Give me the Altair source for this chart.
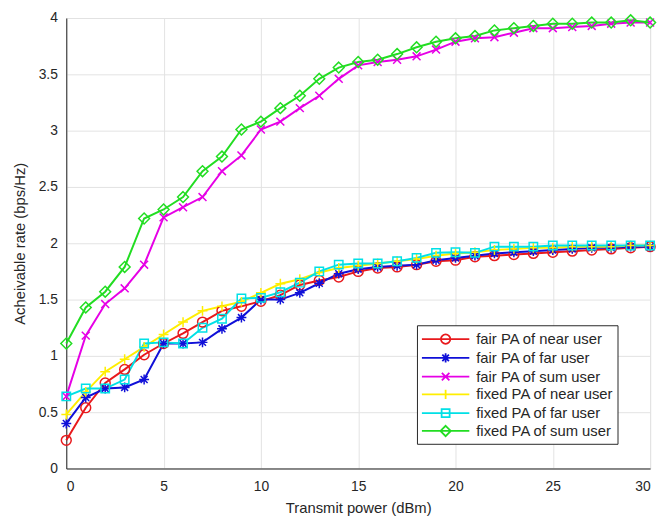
import altair as alt
import pandas as pd

# ---------------- data ----------------
power = list(range(31))

fair_near = [0.25, 0.54, 0.76, 0.88, 1.01, 1.11, 1.20, 1.30, 1.40, 1.44, 1.485,
             1.54, 1.63, 1.67, 1.70, 1.75, 1.78, 1.79, 1.81, 1.84, 1.85,
             1.88, 1.89, 1.90, 1.91, 1.92, 1.93, 1.94, 1.95, 1.96, 1.97]
fair_far = [0.40, 0.63, 0.71, 0.72, 0.79, 1.11, 1.11, 1.12, 1.24, 1.34, 1.50,
            1.50, 1.56, 1.645, 1.73, 1.77, 1.79, 1.80, 1.81, 1.85, 1.87,
            1.89, 1.91, 1.92, 1.93, 1.94, 1.95, 1.96, 1.96, 1.97, 1.97]
fair_sum = [0.64, 1.18, 1.46, 1.60, 1.81, 2.23, 2.32, 2.41, 2.64, 2.78, 3.01,
            3.08, 3.20, 3.31, 3.46, 3.58, 3.61, 3.63, 3.66, 3.72, 3.79,
            3.82, 3.83, 3.87, 3.91, 3.91, 3.92, 3.93, 3.95, 3.96, 3.96]
fixed_near = [0.48, 0.68, 0.86, 0.97, 1.08, 1.19, 1.30, 1.40, 1.44, 1.48, 1.56,
              1.64, 1.68, 1.74, 1.78, 1.80, 1.82, 1.84, 1.86, 1.89, 1.91,
              1.92, 1.94, 1.95, 1.96, 1.96, 1.97, 1.97, 1.97, 1.98, 1.98]
fixed_far = [0.64, 0.71, 0.71, 0.79, 1.11, 1.12, 1.11, 1.25, 1.33, 1.51, 1.515,
             1.565, 1.65, 1.75, 1.81, 1.82, 1.82, 1.84, 1.87, 1.915, 1.92,
             1.915, 1.97, 1.97, 1.97, 1.98, 1.98, 1.98, 1.98, 1.98, 1.98]
fixed_sum = [1.11, 1.43, 1.57, 1.79, 2.22, 2.30, 2.41, 2.64, 2.77, 3.01, 3.08,
             3.20, 3.31, 3.46, 3.56, 3.61, 3.63, 3.68, 3.74, 3.79, 3.82,
             3.84, 3.89, 3.91, 3.93, 3.95, 3.95, 3.96, 3.96, 3.98, 3.96]

series_names = ["fair PA of near user", "fair PA of far user", "fair PA of sum user",
                "fixed PA of near user", "fixed PA of far user", "fixed PA of sum user"]
series_values = [fair_near, fair_far, fair_sum, fixed_near, fixed_far, fixed_sum]

# ---------------- styles ----------------
colors = ["#e8191c", "#1010d8", "#e600e6", "#ffee00", "#00e0e6", "#22dd22"]

marker_paths = [
    "M-1,0A1,1 0 1,0 1,0A1,1 0 1,0 -1,0Z",                                   # o
    "M-1,0L1,0M0,-1L0,1M-0.7,-0.7L0.7,0.7M-0.7,0.7L0.7,-0.7",               # *
    "M-0.8,-0.8L0.8,0.8M-0.8,0.8L0.8,-0.8",                                 # x
    "M-1,0L1,0M0,-1L0,1",                                                   # +
    "M-0.85,-0.85L0.85,-0.85L0.85,0.85L-0.85,0.85Z",                        # s
    "M0,-1.1L1.1,0L0,1.1L-1.1,0Z",                                          # d
]
# legend symbol: line segment with marker, symbol size 324 -> unit = 9 px
L = 2.667   # half line length (units)
r = 0.53    # marker radius (units)
a, b, c = round(r * 0.7, 3), round(r * 0.8, 3), round(r * 0.85, 3)
d = round(r * 1.1, 3)
legend_paths = [
    f"M-{L},0L{L},0M-{r},0A{r},{r} 0 1,0 {r},0A{r},{r} 0 1,0 -{r},0Z",
    f"M-{L},0L{L},0M0,-{r}L0,{r}M-{a},-{a}L{a},{a}M-{a},{a}L{a},-{a}",
    f"M-{L},0L{L},0M-{b},-{b}L{b},{b}M-{b},{b}L{b},-{b}",
    f"M-{L},0L{L},0M0,-{r}L0,{r}",
    f"M-{L},0L{L},0M-{c},-{c}L{c},-{c}L{c},{c}L-{c},{c}Z",
    f"M-{L},0L{L},0M0,-{d}L{d},0L0,{d}L-{d},0Z",
]

rows = []
for name, vals in zip(series_names, series_values):
    for x, y in zip(power, vals):
        rows.append({"power": x, "rate": y, "series": name, "label": name})
df = pd.DataFrame(rows)

FONT = "Liberation Sans"

x_enc = alt.X("power:Q", title="Transmit power (dBm)",
              scale=alt.Scale(domain=[0, 30], nice=False),
              axis=alt.Axis(values=[0, 5, 10, 15, 20, 25, 30], labelPadding=11,
                            titlePadding=8))
y_enc = alt.Y("rate:Q", title="Acheivable rate (bps/Hz)",
              scale=alt.Scale(domain=[0, 4], nice=False),
              axis=alt.Axis(values=[0, 0.5, 1, 1.5, 2, 2.5, 3, 3.5, 4], format="~g",
                            labelPadding=9, titlePadding=11))

color_scale = alt.Scale(domain=series_names, range=colors)

lines = alt.Chart(df).mark_line(strokeWidth=2).encode(
    x=x_enc, y=y_enc,
    color=alt.Color("series:N", scale=color_scale, legend=None),
    order=alt.Order("power:Q"),
)

points = alt.Chart(df).mark_point(filled=False, size=100, strokeWidth=1.5, opacity=1).encode(
    x=x_enc, y=y_enc,
    color=alt.Color("series:N", scale=color_scale, legend=None),
    shape=alt.Shape("series:N", scale=alt.Scale(domain=series_names, range=marker_paths), legend=None),
)

legend_cfg = dict(title=None, orient="none", legendX=355, legendY=311,
                  symbolSize=324, symbolStrokeWidth=1.8, symbolOffset=15,
                  labelFontSize=15, labelFont=FONT, labelColor="#262626",
                  strokeColor="#262626", fillColor="white",
                  padding=4, rowPadding=0, labelOffset=21)

legend_layer = alt.Chart(df).mark_point(filled=False, opacity=1).encode(
    color=alt.Color("label:N", scale=alt.Scale(domain=series_names, range=colors),
                    legend=alt.Legend(**legend_cfg)),
    shape=alt.Shape("label:N", scale=alt.Scale(domain=series_names, range=legend_paths),
                    legend=alt.Legend(**legend_cfg)),
).transform_filter("false")

chart = alt.layer(lines, points, legend_layer).resolve_scale(
    color="independent", shape="independent"
).properties(
    width=591, height=456,
    autosize=alt.AutoSizeParams(type="none"),
    padding={"left": 59, "top": 7, "right": 9, "bottom": 51},
).configure_axis(
    labelFont=FONT, titleFont=FONT, labelFontSize=14, titleFontSize=15,
    labelColor="#262626", titleColor="#262626", titleFontWeight="normal",
    domainColor="#262626", domainWidth=1, tickSize=0,
    gridColor="#e3e3e3", grid=True,
).configure_view(stroke="#dcdcdc")

chart.save("out.html", embed_options={"renderer": "svg", "actions": False})
